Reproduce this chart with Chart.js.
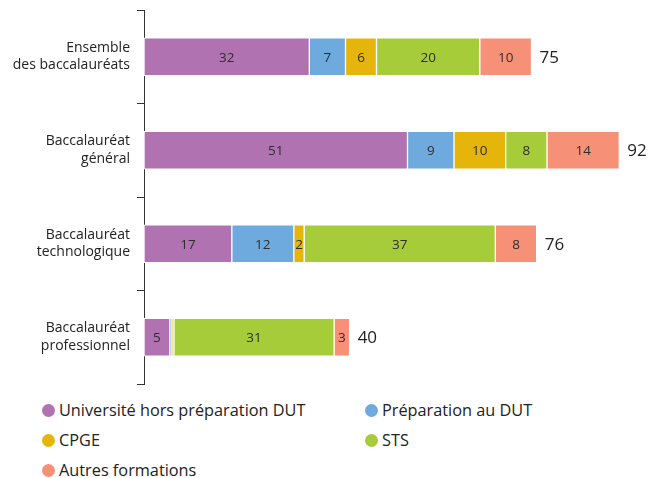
<!DOCTYPE html>
<html>
<head>
<meta charset="utf-8">
<script src="https://cdn.jsdelivr.net/npm/chart.js@4"></script>
<style>
  body { margin: 0; background: #fff; font-family: "Open Sans", sans-serif; }
  #wrap { width: 648px; height: 392px; position: relative; }
  #legend { position: relative; width: 648px; height: 86px; font-size: 16.3px; color: #222; }
  .item { position: absolute; display: flex; align-items: center; white-space: nowrap; }
  .dot { width: 13px; height: 13px; border-radius: 50%; margin-right: 4px; }
</style>
</head>
<body>
<div id="wrap"><canvas id="chart"></canvas></div>
<div id="legend"></div>
<script>
const categories = [
  ['Ensemble', 'des baccalauréats'],
  ['Baccalauréat', 'général'],
  ['Baccalauréat', 'technologique'],
  ['Baccalauréat', 'professionnel']
];
const seriesNames = ['Université hors préparation DUT', 'Préparation au DUT', 'CPGE', 'STS', 'Autres formations'];
const universite = [32, 51, 17, 5];
const prepaDut = [7, 9, 12, 0.4];
const cpge = [6, 10, 2, 0.4];
const sts = [20, 8, 37, 31];
const autres = [10, 14, 8, 3];
const totals = [75, 92, 76, 40];
const colors = ['#b072b0', '#6eaadd', '#e6b50b', '#a6cd39', '#f69178'];

const values = [universite, prepaDut, cpge, sts, autres];

const data = {
    labels: categories,
    datasets: values.map((v, i) => ({
        label: seriesNames[i],
        data: v,
        backgroundColor: colors[i],
        borderColor: '#ffffff',
        borderWidth: 1,
        borderSkipped: false,
        barThickness: 38
    }))
};

// labels inside segments and totals at the end of each bar
const labelPlugin = {
    id: 'labels',
    afterDatasetsDraw(chart) {
        const ctx = chart.ctx;
        ctx.save();
        ctx.textBaseline = 'middle';
        chart.data.datasets.forEach((ds, i) => {
            const meta = chart.getDatasetMeta(i);
            meta.data.forEach((bar, j) => {
                if (ds.data[j] < 1) return;
                ctx.font = '13.5px "Open Sans"';
                ctx.fillStyle = '#2e2e2e';
                ctx.textAlign = 'center';
                ctx.fillText(ds.data[j], (bar.x + bar.base) / 2, bar.y + 1);
            });
        });
        const last = chart.getDatasetMeta(chart.data.datasets.length - 1);
        last.data.forEach((bar, j) => {
            ctx.font = '17px "Open Sans"';
            ctx.fillStyle = '#222';
            ctx.textAlign = 'left';
            ctx.fillText(totals[j], bar.x + 8, bar.y + 1);
        });
        ctx.restore();
    }
};

const config = {
    type: 'bar',
    data,
    plugins: [labelPlugin],
    options: {
        indexAxis: 'y',
        animation: false,
        responsive: false,
        layout: {
            padding: { top: 10, right: 8, bottom: 8, left: 0 }
        },
        plugins: {
            legend: { display: false },
            tooltip: { enabled: false }
        },
        scales: {
            x: {
                stacked: true,
                min: 0,
                max: 96,
                display: false
            },
            y: {
                stacked: true,
                afterFit(scale) {
                    scale.width = 144;
                    scale.paddingTop = 0;
                    scale.paddingBottom = 0;
                },
                grid: {
                    offset: true,
                    drawOnChartArea: false,
                    tickLength: 7,
                    color: '#333'
                },
                border: { color: '#333', width: 1 },
                ticks: {
                    padding: 7,
                    color: '#222',
                    font: { family: 'Open Sans', size: 14, lineHeight: 1.25 }
                }
            }
        }
    }
};

const canvas = document.getElementById('chart');
canvas.width = 648;
canvas.height = 392;
var myChart = new Chart(canvas, config);

// legend in two columns
const legendPos = [[42, 410], [365, 410], [42, 440], [365, 440], [42, 470]];
const legend = document.getElementById('legend');
seriesNames.forEach((name, i) => {
    const it = document.createElement('div');
    it.className = 'item';
    it.style.left = legendPos[i][0] + 'px';
    it.style.top = (legendPos[i][1] - 392 - 11) + 'px';
    it.innerHTML = '<span class="dot" style="background:' + colors[i] + '"></span>' + name;
    legend.appendChild(it);
});
</script>
</body>
</html>
